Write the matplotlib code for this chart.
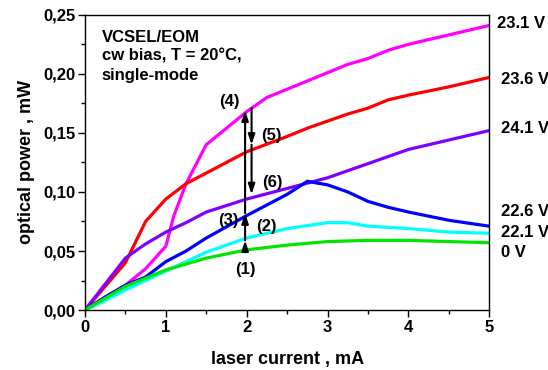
import numpy as np
import matplotlib
matplotlib.use('Agg')
import matplotlib.pyplot as plt
from matplotlib.ticker import FuncFormatter, MultipleLocator

# ---- data ----
x_23p1 = [0, 0.25, 0.5, 0.75, 1.0, 1.1, 1.25, 1.5, 2.0, 2.25, 2.5, 2.75, 3.0, 3.25, 3.5, 3.75, 4.0, 4.5, 5.0]
y_23p1 = [0, 0.011, 0.021, 0.035, 0.054, 0.080, 0.107, 0.140, 0.168, 0.180, 0.187, 0.194, 0.201, 0.208, 0.213, 0.220, 0.225, 0.233, 0.241]

x_23p6 = [0, 0.25, 0.5, 0.75, 1.0, 1.25, 1.5, 2.0, 2.5, 2.75, 3.0, 3.25, 3.5, 3.75, 4.0, 4.5, 5.0]
y_23p6 = [0, 0.020, 0.040, 0.075, 0.094, 0.107, 0.116, 0.134, 0.147, 0.154, 0.160, 0.166, 0.171, 0.178, 0.182, 0.189, 0.197]

x_24p1 = [0, 0.25, 0.5, 0.75, 1.0, 1.25, 1.5, 2.0, 2.5, 3.0, 3.5, 4.0, 4.5, 5.0]
y_24p1 = [0, 0.022, 0.044, 0.056, 0.066, 0.074, 0.083, 0.094, 0.103, 0.112, 0.124, 0.136, 0.144, 0.152]

x_22p6 = [0, 0.25, 0.5, 0.75, 1.0, 1.25, 1.5, 2.0, 2.5, 2.75, 3.0, 3.25, 3.5, 3.75, 4.0, 4.5, 5.0]
y_22p6 = [0, 0.011, 0.021, 0.028, 0.041, 0.050, 0.061, 0.080, 0.098, 0.109, 0.106, 0.100, 0.092, 0.087, 0.083, 0.076, 0.071]

x_22p1 = [0, 0.25, 0.5, 0.75, 1.0, 1.5, 2.0, 2.5, 3.0, 3.25, 3.5, 4.0, 4.5, 5.0]
y_22p1 = [0, 0.008, 0.017, 0.025, 0.033, 0.049, 0.061, 0.069, 0.074, 0.074, 0.071, 0.069, 0.066, 0.065]

x_0 = [0, 0.25, 0.5, 0.75, 1.0, 1.5, 2.0, 2.5, 3.0, 3.5, 4.0, 4.5, 5.0]
y_0 = [0, 0.010, 0.020, 0.027, 0.034, 0.044, 0.051, 0.055, 0.058, 0.059, 0.059, 0.058, 0.057]

bias_labels = ['23.1 V', '23.6 V', '24.1 V', '22.6 V', '22.1 V', '0 V']
bias_label_y = [0.2424, 0.195, 0.154, 0.0835, 0.0658, 0.0489]
bias_label_x = [5.10, 5.14, 5.14, 5.14, 5.14, 5.14]
colors = ['#ff00ff', '#ff0000', '#8000ff', '#0000ff', '#00ffff', '#00e600']

xs = [x_23p1, x_23p6, x_24p1, x_22p6, x_22p1, x_0]
ys = [y_23p1, y_23p6, y_24p1, y_22p6, y_22p1, y_0]

# arrow annotations: x position, segment end points
arrow_up_x = 1.98
arrow_up_y = [0.049, 0.059, 0.082, 0.169]
arrow_dn_x = 2.06
arrow_dn_y = [0.171, 0.140, 0.098]

step_labels = ['(1)', '(2)', '(3)', '(4)', '(5)', '(6)']
step_x = [1.98, 2.24, 1.77, 1.79, 2.30, 2.32]
step_y = [0.034, 0.071, 0.076, 0.177, 0.148, 0.108]

font_size = 12
label_size = 13
plt.rcParams['font.family'] = ['Liberation Sans', 'DejaVu Sans']
plt.rcParams['font.weight'] = 'bold'

fig = plt.figure(figsize=(5.48, 3.70), dpi=100)
ax = fig.add_axes([0.155, 0.162, 0.738, 0.798])

for i in range(len(xs)):
  ax.plot(xs[i], ys[i], color=colors[i], lw=2.3, solid_joinstyle='miter')
  ax.text(bias_label_x[i], bias_label_y[i], bias_labels[i], fontsize=font_size, fontweight='bold',
          va='center', ha='left', clip_on=False)

ap = dict(arrowstyle='-|>,head_length=0.6,head_width=0.2', color='black', lw=1.5, shrinkA=0, shrinkB=0)
for i in range(len(arrow_up_y) - 1):
  ax.annotate('', xy=(arrow_up_x, arrow_up_y[i+1]), xytext=(arrow_up_x, arrow_up_y[i]), arrowprops=ap)
for i in range(len(arrow_dn_y) - 1):
  ax.annotate('', xy=(arrow_dn_x, arrow_dn_y[i+1]), xytext=(arrow_dn_x, arrow_dn_y[i]), arrowprops=ap)

for lab, sx, sy in zip(step_labels, step_x, step_y):
  ax.text(sx, sy, lab, fontsize=font_size, fontweight='bold', ha='center', va='center')

ax.text(0.21, 0.2375, 'VCSEL/EOM\ncw bias, T = 20°C,\nsingle-mode', fontsize=font_size, fontweight='bold',
        va='top', ha='left', linespacing=1.33)

ax.set_xlim(0, 5)
ax.set_ylim(0, 0.25)
ax.xaxis.set_major_locator(MultipleLocator(1))
ax.xaxis.set_minor_locator(MultipleLocator(0.5))
ax.yaxis.set_major_locator(MultipleLocator(0.05))
ax.yaxis.set_minor_locator(MultipleLocator(0.025))
ax.yaxis.set_major_formatter(FuncFormatter(lambda v, p: f'{v:.2f}'.replace('.', ',')))

ax.tick_params(axis='both', which='major', direction='out', length=5, width=1, labelsize=font_size, pad=2)
ax.tick_params(axis='both', which='minor', direction='out', length=3, width=1)
for lbl in ax.get_xticklabels() + ax.get_yticklabels():
  lbl.set_fontweight('bold')

ax.set_xlabel('laser current , mA', fontsize=label_size, fontweight='bold', labelpad=12)
ax.set_ylabel('optical power , mW', fontsize=label_size, fontweight='bold', labelpad=6)
[sp.set_linewidth(1) for sp in ax.spines.values()]

fig.savefig('out.png', dpi=100)
